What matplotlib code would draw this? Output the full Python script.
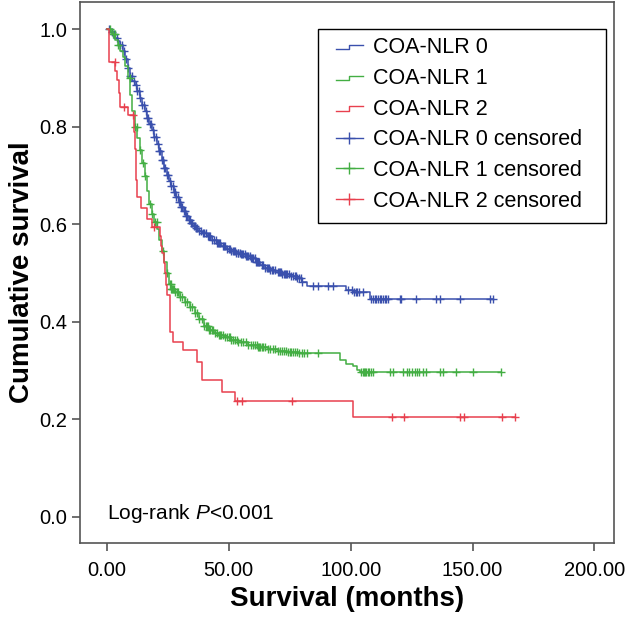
import numpy as np
import matplotlib
matplotlib.use("Agg")
import matplotlib.pyplot as plt
from matplotlib.lines import Line2D
from matplotlib.patches import Rectangle
from matplotlib.legend_handler import HandlerBase

plt.rcParams['font.family'] = ['Liberation Sans', 'DejaVu Sans']
plt.rcParams['mathtext.fontset'] = 'custom'
plt.rcParams['mathtext.rm'] = 'Liberation Sans'
plt.rcParams['mathtext.it'] = 'Liberation Sans:italic'

# Kaplan-Meier step knots (months, cumulative survival)
nlr0_time = [0, 1.5, 2.5, 3.5, 4.5, 5.5, 6.5, 7.5, 8.5, 9.5, 10.5, 11.5, 12.5, 13.5,
             14.5, 15.5, 16.5, 17.5, 18.5, 19.5, 20.5, 21.5, 22.5, 23.5, 24.5, 25.5,
             26.5, 27.5, 28.5, 29.5, 30.5, 31.5, 32.5, 33.5, 34.5, 35.5, 36.5, 37.5,
             39, 41, 43, 45, 47, 49, 51, 53, 55, 57, 59, 61, 63, 65, 67, 69, 72, 75,
             78, 80, 82, 98, 101, 108]
nlr0_surv = [1.0, 0.995, 0.99, 0.982, 0.975, 0.968, 0.955, 0.938, 0.92, 0.905, 0.894,
             0.886, 0.874, 0.858, 0.845, 0.832, 0.818, 0.806, 0.793, 0.779, 0.765, 0.75,
             0.732, 0.716, 0.702, 0.689, 0.678, 0.667, 0.656, 0.646, 0.636, 0.627, 0.617,
             0.609, 0.602, 0.597, 0.592, 0.587, 0.581, 0.575, 0.568, 0.562, 0.556, 0.55,
             0.546, 0.542, 0.539, 0.535, 0.531, 0.523, 0.517, 0.511, 0.506, 0.503, 0.498,
             0.494, 0.489, 0.482, 0.473, 0.466, 0.46, 0.447]
nlr0_cens = [1, 2, 3, 4, 5.5, 6.2, 7, 8, 8.8, 9.5, 10.2, 11, 11.8, 12.5, 13, 13.8,
             14.5, 15.2, 16, 16.6, 17, 17.8, 18, 18.8, 19.5, 20.2, 21, 21.6, 22, 22.8,
             23, 23.6, 24, 24.8, 25, 25.8, 26.5, 27, 27.5, 28, 28.5, 29, 29.5, 30,
             30.5, 31, 31.5, 32, 32.6, 33, 33.6, 34, 34.6, 35, 35.6, 36, 36.6, 37, 37.8,
             38.5, 39.5, 40, 40.5, 41.5, 42, 42.5, 43.2, 44, 44.6, 45, 45.6, 46, 46.6,
             47.5, 48, 48.5, 49.2, 50, 50.6, 51, 51.6, 52, 52.6, 53, 53.6, 54, 54.6, 55,
             55.6, 56, 56.6, 57, 57.6, 58, 58.6, 59, 59.6, 60, 60.6, 61, 61.6, 62, 62.6,
             63.5, 64.2, 65, 65.6, 66, 66.6, 67, 67.6, 68, 68.8, 70, 70.6, 71, 71.6, 72,
             72.6, 73, 73.6, 74, 74.6, 75.5, 76.2, 77, 77.6, 78, 79, 79.6, 80, 84.6,
             86.6, 90.7, 92.8, 99, 100.5, 101.2, 102, 102.8, 103.5, 105, 108.5, 109.2,
             109.9, 110.5, 111.2, 111.9, 112.6, 113.3, 114, 114.6, 115.3, 120.1, 120.8,
             127, 135.2, 136.5, 144.7, 157, 158.4]

nlr1_time = [0, 2, 3.5, 4.5, 5.5, 6.5, 7.5, 8.5, 9.5, 10.5, 11.5, 12.5, 13.5, 14.5,
             15.5, 16.5, 17.5, 18.5, 19.5, 20.5, 21.5, 22.5, 23.5, 24.5, 25.5, 26.5, 28,
             30, 32, 34, 36, 38, 40, 42, 44, 46, 48, 51, 54, 58, 62, 66, 70, 74, 79,
             95.5, 98, 101, 102.5, 104]
nlr1_surv = [1.0, 0.99, 0.978, 0.968, 0.955, 0.943, 0.925, 0.9, 0.866, 0.832, 0.8,
             0.776, 0.752, 0.725, 0.698, 0.668, 0.642, 0.622, 0.605, 0.59, 0.568, 0.545,
             0.522, 0.5, 0.478, 0.468, 0.46, 0.45, 0.44, 0.43, 0.418, 0.405, 0.392,
             0.384, 0.377, 0.372, 0.368, 0.362, 0.358, 0.352, 0.348, 0.345, 0.34, 0.337,
             0.335, 0.321, 0.314, 0.309, 0.3, 0.297]
nlr1_cens = [1.5, 2.5, 3.3, 4.6, 9.4, 11.5, 12.3, 13.5, 14.9, 15.6, 17.6, 18.6, 19.8,
             20.4, 23, 24.5, 25.8, 26.2, 26.5, 26.9, 27.2, 27.6, 28, 28.6, 29.2, 30,
             31, 32, 33, 34, 35, 36, 37, 38, 39, 40, 40.5, 41, 41.5, 42, 42.5, 43, 43.6,
             44.5, 45.2, 46, 46.6, 47, 47.6, 48.5, 49.2, 50, 50.5, 51, 51.8, 52.5, 53.2,
             54, 55, 56, 57, 58, 59, 60, 60.8, 61.5, 62, 62.5, 63, 63.5, 64.2, 65, 66,
             67, 68, 69, 70, 71, 72, 72.6, 73.5, 74.2, 75, 75.6, 76.5, 77.2, 78, 79,
             80, 81, 82, 86.6, 104.4, 105, 105.5, 106, 106.5, 107, 107.5, 108.2, 109,
             116, 117.4, 121.5, 123, 124, 125, 126.5, 127.2, 128, 129.5, 131, 136.5,
             137.9, 143.3, 150, 161.7]

nlr2_time = [0, 1, 3.5, 4.2, 4.8, 5.3, 8.7, 11.0, 11.4, 11.8, 12.1, 12.4, 14.2, 16.5,
             18.6, 22.0, 22.4, 22.8, 23.4, 23.8, 24.3, 24.7, 25.8, 27, 31.3, 36.9, 38.9,
             47.1, 52.5, 101]
nlr2_surv = [1.0, 0.933, 0.915, 0.895, 0.87, 0.84, 0.824, 0.79, 0.755, 0.72, 0.69,
             0.656, 0.633, 0.61, 0.595, 0.575, 0.555, 0.54, 0.52, 0.5, 0.475, 0.454,
             0.378, 0.358, 0.342, 0.317, 0.28, 0.256, 0.237, 0.205]
nlr2_cens = [3.3, 7.0, 10.8, 19.2, 53.3, 55.5, 76, 117, 122, 145, 146.5, 162, 167.4]

groups = [
    ("COA-NLR 0", nlr0_time, nlr0_surv, nlr0_cens, "#3a50ad"),
    ("COA-NLR 1", nlr1_time, nlr1_surv, nlr1_cens, "#43ae43"),
    ("COA-NLR 2", nlr2_time, nlr2_surv, nlr2_cens, "#e8404e"),
]


class StepHandler(HandlerBase):
    # small step glyph like the SPSS legend
    def create_artists(self, legend, orig_handle, xdescent, ydescent,
                       width, height, fontsize, trans):
        x0 = -xdescent
        xm = x0 + 0.5 * width
        y_lo = -ydescent + 0.25 * height
        y_hi = -ydescent + 0.55 * height
        line = Line2D([x0, xm, xm, x0 + width], [y_lo, y_lo, y_hi, y_hi],
                      color=orig_handle.get_color(), lw=1.0)
        line.set_transform(trans)
        return [line]


fig = plt.figure(figsize=(6.26, 6.19), dpi=100)
ax = fig.add_axes([0.1278, 0.1228, 0.853, 0.874])

step_handles = []
cens_handles = []
for label, t, s, cens, color in groups:
    t = np.array(t, dtype=float)
    s = np.array(s, dtype=float)
    c = np.array(cens, dtype=float)
    t_end = max(t[-1], c.max())
    ax.step(np.append(t, t_end), np.append(s, s[-1]), where='post',
            color=color, lw=1.1)
    idx = np.searchsorted(t, c, side='right') - 1
    ax.plot(c, s[idx], linestyle='none', marker='+', markersize=6,
            markeredgewidth=1.0, color=color)
    step_handles.append(Line2D([], [], color=color, lw=1.0, label=label))
    cens_handles.append(Line2D([], [], color=color, lw=1.0, marker='+',
                               markersize=9, markeredgewidth=1.0,
                               label=label + " censored"))

# legend box drawn separately (SPSS leaves wide side margins)
ax.add_patch(Rectangle((0.4457, 0.5915), 0.5393, 0.3585, transform=ax.transAxes,
                       fill=True, facecolor='white', edgecolor='black', lw=1.0,
                       zorder=4))
handles = step_handles + cens_handles
leg = ax.legend(handles=handles, loc='upper left', bbox_to_anchor=(0.479, 0.935),
                borderaxespad=0, borderpad=0, fontsize=15.5, frameon=False,
                labelspacing=0.45, handlelength=1.25, handletextpad=0.5,
                numpoints=1, handler_map={h: StepHandler() for h in step_handles})
leg.set_zorder(5)

ax.set_xlim(-11, 208)
ax.set_ylim(-0.054, 1.056)
ax.set_xticks([0, 50, 100, 150, 200])
ax.set_xticklabels(["0.00", "50.00", "100.00", "150.00", "200.00"])
ax.set_yticks([0.0, 0.2, 0.4, 0.6, 0.8, 1.0])
ax.set_yticklabels(["0.0", "0.2", "0.4", "0.6", "0.8", "1.0"])
ax.tick_params(direction='out', length=6, width=1.2, color='#555555',
               labelsize=14.5)
ax.tick_params(axis='x', pad=7)
ax.tick_params(axis='y', pad=3)
for sp in ax.spines.values():
    sp.set_color('#555555')
    sp.set_linewidth(1.2)

ax.set_xlabel("Survival (months)", fontsize=20, fontweight='bold', labelpad=4)
ax.set_ylabel("Cumulative survival", fontsize=20, fontweight='bold', labelpad=3)

ax.text(0.05, 0.055, "Log-rank $P$<0.001", transform=ax.transAxes,
        fontsize=15, ha='left', va='center')

fig.savefig("out.png", dpi=100)
